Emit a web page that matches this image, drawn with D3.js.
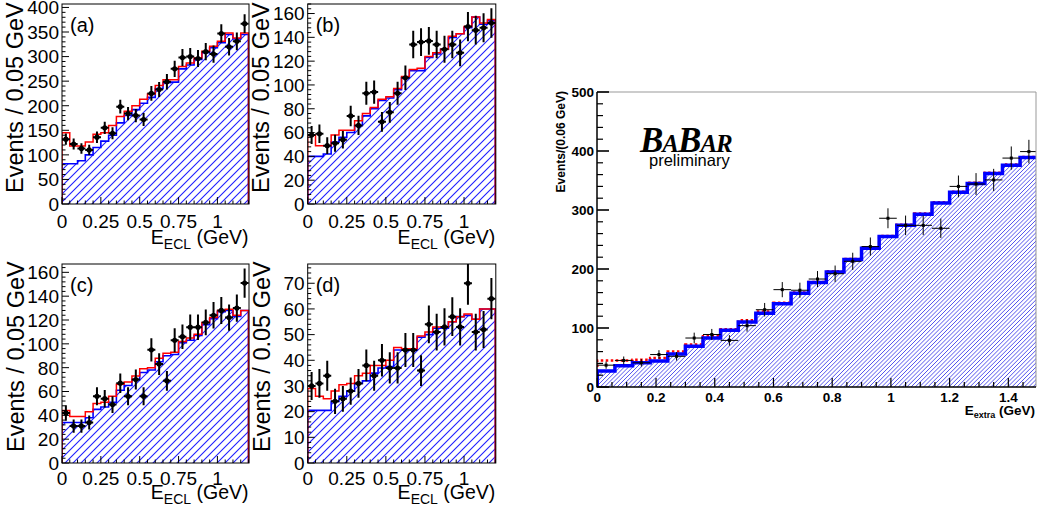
<!DOCTYPE html>
<html><head><meta charset="utf-8">
<script src="https://cdn.jsdelivr.net/npm/d3@7"></script>
<style>body{margin:0;background:#fff}svg{display:block}</style>
</head><body>
<svg id="c" width="1037" height="516"></svg>
<script>
// ---------------- data ----------------
// small panels: 24 bins of 0.05 GeV in E_ECL from 0 to 1.2 GeV
const eclBinWidth = 0.05;
const eclNBins = 24;
const eclTickLabels = ["0", "0.25", "0.5", "0.75", "1"];
const eclTickValues = [0, 0.25, 0.5, 0.75, 1];

const dataA = [132,122,113,110,136,155,144,198,184,180,172,225,233,249,275,298,300,296,310,305,347,320,331,367];
const totA  = [145,118,118,126,142,145,160,178,189,200,213,224,241,253,253,280,287,297,311,321,331,348,338,348];
const bkgA  = [82,82,88,100,115,128,140,165,180,192,205,217,235,247,248,275,283,294,308,318,328,345,336,345];

const dataB = [58,59,49,51,54,74,66,93,94,69,77,93,106,134,136,137,134,130,134,127,149,146,148,152];
const totB  = [58,49,49,58,62,62,70,76,81,88,90,97,107,113,114,124,127,130,141,143,149,157,152,155];
const bkgB  = [40,40,42,52,56,60,66,74,80,87,89,96,106,112,112,123,126,130,140,143,148,157,151,154];

const dataC = [42,31,31,34,56,54,49,67,56,70,56,95,83,69,103,106,114,114,118,124,128,122,130,151];
const totC  = [44,39,39,43,50,51,56,66,68,73,79,80,88,92,93,102,105,108,118,122,128,129,124,128];
const bkgC  = [34,34,34,38,45,47,51,61,65,70,76,78,85,90,91,101,103,107,116,121,127,128,123,128];

const dataD = [30,31,34,24,25,28,31,38,34,40,37,37,44,44,36,54,51,53,57,53,70,51,52,64];
const totD  = [29,26,25,28,30.5,31,34,35,38,38,40,45,44.5,44.5,49.5,51,53,53,55,57,58,56,60,60];
const bkgD  = [20.5,20.5,20.5,24,26,28,31,32,35,37,37.6,44,44,44,49,50,52.5,52.5,55,57,57.5,56,60,60];

// big panel: 25 bins of 0.06 GeV in E_extra from 0 to 1.5 GeV
const extraBinWidth = 0.06;
const extraNBins = 25;
const extraTickValues = [0, 0.2, 0.4, 0.6, 0.8, 1, 1.2, 1.4];
const extraTickLabels = ["0", "0.2", "0.4", "0.6", "0.8", "1", "1.2", "1.4"];
const bigYTicks = [0, 100, 200, 300, 400, 500];
const bigData = [37,45,41,55,52,83,89,79,104,131,165,164,183,192,213,238,286,274,274,269,340,344,351,388,399];
const bigBkg  = [27,36,41,44,56,69,83,96,110,125,141,159,177,195,216,235,255,274,293,312,330,345,362,376,389];
const bigTot  = [45,45,46,49,60,72,86,98,113,128,143,160,178,196,217,236,256,275,294,313,331,346,363,377,390];

// ---------------- drawing ----------------
const svg = d3.select("#c");
const FONT = "'Liberation Sans', Arial, Helvetica, sans-serif";
const defs = svg.append("defs");
const patS = defs.append("pattern").attr("id","hatchS").attr("patternUnits","userSpaceOnUse")
  .attr("width",8).attr("height",8);
patS.append("path").attr("d","M-2,2 L2,-2 M0,8 L8,0 M6,10 L10,6")
  .style("stroke","#1f1fff").style("stroke-width","1.1px").style("fill","none");

function stepPath(x, y, edges, vals){
  let s = `M${x(edges[0])},${y(0)}`;
  vals.forEach((v,i)=>{ s += `V${y(v)}H${x(edges[i+1])}`; });
  s += `V${y(0)}`;
  return s;
}

const panels = [
  {lab:"(a)", data:dataA, tot:totA, bkg:bkgA, ymax:407, major:50, minor:10, L:62, R:248.5, T:4, B:204, tx:23, xlabB:24, xtitB:40},
  {lab:"(b)", data:dataB, tot:totB, bkg:bkgB, ymax:168, major:20, minor:4, L:307.7, R:495.3, T:4, B:204, tx:269, xlabB:24, xtitB:40},
  {lab:"(c)", data:dataC, tot:totC, bkg:bkgC, ymax:167, major:20, minor:4, L:62, R:248.5, T:264, B:463, tx:24, xlabB:22, xtitB:36},
  {lab:"(d)", data:dataD, tot:totD, bkg:bkgD, ymax:77.5, major:10, minor:2, L:307.7, R:495.3, T:264, B:463, tx:270, xlabB:22, xtitB:36}
];

panels.forEach((p, k)=>{
  const g = svg.append("g");
  const x = d3.scaleLinear().domain([0, eclBinWidth*eclNBins]).range([p.L, p.R]);
  const y = d3.scaleLinear().domain([0, p.ymax]).range([p.B, p.T]);
  const edges = d3.range(eclNBins+1).map(i=>i*eclBinWidth);
  const cid = "clipS"+k;
  defs.append("clipPath").attr("id",cid).append("rect")
    .attr("x",p.L).attr("y",p.T).attr("width",p.R-p.L+1).attr("height",p.B-p.T);
  const inner = g.append("g").attr("clip-path",`url(#${cid})`);
  inner.append("path").attr("d", stepPath(x,y,edges,p.bkg)+"Z").attr("fill","url(#hatchS)");
  inner.append("path").attr("d", stepPath(x,y,edges,p.bkg)).attr("fill","none")
    .attr("stroke","#0000ff").attr("stroke-width",1.6);
  inner.append("path").attr("d", stepPath(x,y,edges,p.tot)).attr("fill","none")
    .attr("stroke","#ff0000").attr("stroke-width",1.5);
  p.data.forEach((v,i)=>{
    const cx = x((edges[i]+edges[i+1])/2), e = Math.sqrt(v);
    inner.append("line").attr("x1",cx).attr("x2",cx).attr("y1",y(v-e)).attr("y2",y(v+e))
      .attr("stroke","#000").attr("stroke-width",2);
    inner.append("line").attr("x1",cx-4).attr("x2",cx+4).attr("y1",y(v)).attr("y2",y(v))
      .attr("stroke","#000").attr("stroke-width",2);
    inner.append("circle").attr("cx",cx).attr("cy",y(v)).attr("r",2.6).attr("fill","#000");
  });
  g.append("rect").attr("x",p.L).attr("y",p.T).attr("width",p.R-p.L+0.5).attr("height",p.B-p.T)
    .attr("fill","none").attr("stroke","#000").attr("stroke-width",1);
  // y ticks
  d3.range(0, p.ymax+1e-9, p.minor).forEach(v=>{
    const isMaj = Math.abs(v/p.major - Math.round(v/p.major))<1e-6;
    g.append("line").attr("x1",p.L).attr("x2",p.L+(isMaj?7:3.5)).attr("y1",y(v)).attr("y2",y(v))
      .attr("stroke","#000").attr("stroke-width",1);
    if(isMaj) g.append("text").attr("x",p.L-3).attr("y",y(v)).attr("dy","0.36em")
      .attr("text-anchor","end").attr("font-family",FONT).attr("font-size",19).text(d3.format("")(v));
  });
  // x ticks
  d3.range(0, eclNBins+1).forEach(i=>{
    const v = i*eclBinWidth;
    const isMaj = i%5===0;
    g.append("line").attr("x1",x(v)).attr("x2",x(v)).attr("y1",p.B).attr("y2",p.B-(isMaj?7:3.5))
      .attr("stroke","#000").attr("stroke-width",1);
  });
  eclTickValues.forEach((v,i)=>{
    g.append("text").attr("x",x(v)).attr("y",p.B+p.xlabB).attr("text-anchor","middle")
      .attr("font-family",FONT).attr("font-size",19).text(eclTickLabels[i]);
  });
  // y title
  g.append("text").attr("transform",`translate(${p.tx},${p.B-11}) rotate(-90)`)
    .attr("font-family",FONT).attr("font-size",23.5).text("Events / 0.05 GeV");
  // x title
  const xt = g.append("text").attr("x",p.R).attr("y",p.B+p.xtitB).attr("text-anchor","end")
    .attr("font-family",FONT).attr("font-size",19.5);
  xt.append("tspan").text("E");
  xt.append("tspan").attr("font-size",14).attr("dy",5).text("ECL");
  xt.append("tspan").attr("dy",-5).text(" (GeV)");
  // label
  g.append("text").attr("x",p.L+8).attr("y",p.T+28).attr("font-family",FONT).attr("font-size",20).text(p.lab);
});

// ---------------- big panel ----------------
(function(){
  const L=597, R=1036, T=92, B=387;
  const g = svg.append("g");
  const x = d3.scaleLinear().domain([0, 1.5]).range([597.3, 1037.7]);
  const y = d3.scaleLinear().domain([0, 500]).range([B, T]);
  const edges = d3.range(extraNBins+1).map(i=>i*extraBinWidth);
  defs.append("clipPath").attr("id","clipB").append("rect")
    .attr("x",L).attr("y",T).attr("width",R-L).attr("height",B-T);
  defs.append("clipPath").attr("id","clipBH").append("path")
    .attr("d", stepPath(x,y,edges,bigBkg)+"Z");
  const inner = g.append("g").attr("clip-path","url(#clipB)");
  // hatch: explicit diagonal lines clipped to the background histogram
  const hatch = inner.append("g").attr("clip-path","url(#clipBH)");
  const hs = 4.2, H = B - T;
  for(let x0 = L - H; x0 < R + 5; x0 += hs){
    hatch.append("line").attr("x1",x0).attr("y1",B).attr("x2",x0+H).attr("y2",T)
      .attr("stroke","#2828e8").attr("stroke-width",0.8);
  }
  inner.append("path").attr("d", stepPath(x,y,edges,bigTot)).attr("fill","none")
    .attr("stroke","#ff0000").attr("stroke-width",2.5).attr("stroke-dasharray","2.5,2.5");
  inner.append("path").attr("d", stepPath(x,y,edges,bigBkg)).attr("fill","none")
    .attr("stroke","#0000ff").attr("stroke-width",3.5);
  bigData.forEach((v,i)=>{
    const cx = x((edges[i]+edges[i+1])/2), e = Math.sqrt(v);
    inner.append("line").attr("x1",cx).attr("x2",cx).attr("y1",y(v-e)).attr("y2",y(v+e))
      .attr("stroke","#000").attr("stroke-width",1);
    inner.append("line").attr("x1",x(edges[i])).attr("x2",x(edges[i+1])).attr("y1",y(v)).attr("y2",y(v))
      .attr("stroke","#000").attr("stroke-width",1);
    inner.append("rect").attr("x",cx-1.5).attr("y",y(v)-1.5).attr("width",3).attr("height",3).attr("fill","#000");
  });
  // frame
  g.append("line").attr("x1",L).attr("x2",R).attr("y1",T).attr("y2",T).attr("stroke","#999").attr("stroke-width",1);
  g.append("line").attr("x1",R).attr("x2",R).attr("y1",T).attr("y2",B).attr("stroke","#999").attr("stroke-width",1);
  g.append("line").attr("x1",L).attr("x2",L).attr("y1",T).attr("y2",B+0.5).attr("stroke","#000").attr("stroke-width",1.5);
  g.append("line").attr("x1",L).attr("x2",R).attr("y1",B).attr("y2",B).attr("stroke","#000").attr("stroke-width",1.5);
  // y ticks
  d3.range(0, 501, 20).forEach(v=>{
    const isMaj = v%100===0;
    g.append("line").attr("x1",L).attr("x2",L+(isMaj?12:6)).attr("y1",y(v)).attr("y2",y(v))
      .attr("stroke","#000").attr("stroke-width",isMaj?1.6:1.2);
  });
  bigYTicks.forEach(v=>{
    g.append("text").attr("x",L-3).attr("y",y(v)).attr("dy","0.36em").attr("text-anchor","end")
      .attr("font-family",FONT).attr("font-weight","bold").attr("font-size",13.5).text(v);
  });
  // x ticks
  d3.range(0, 30).forEach(i=>{
    const v = i*0.05;
    const isMaj = i%4===0;
    g.append("line").attr("x1",x(v)).attr("x2",x(v)).attr("y1",B).attr("y2",B-(isMaj?9:5))
      .attr("stroke","#000").attr("stroke-width",1.2);
  });
  extraTickValues.forEach((v,i)=>{
    g.append("text").attr("x",x(v)).attr("y",B+15).attr("text-anchor","middle")
      .attr("font-family",FONT).attr("font-weight","bold").attr("font-size",13.5).text(extraTickLabels[i]);
  });
  // titles
  g.append("text").attr("transform",`translate(565,${T-1}) rotate(-90)`).attr("text-anchor","end")
    .attr("font-family",FONT).attr("font-weight","bold").attr("font-size",12).text("Events/(0.06 GeV)");
  const xt = g.append("text").attr("x",1035).attr("y",B+28).attr("text-anchor","end")
    .attr("font-family",FONT).attr("font-weight","bold").attr("font-size",13.5);
  xt.append("tspan").text("E");
  xt.append("tspan").attr("font-size",9).attr("dy",3).text("extra");
  xt.append("tspan").attr("dy",-3).text(" (GeV)");
  // BaBar logo
  const lg = g.append("text").attr("x",640).attr("y",152)
    .attr("font-family","'Liberation Serif', 'Times New Roman', serif").attr("font-weight","bold")
    .attr("font-style","italic").attr("letter-spacing",-1);
  lg.append("tspan").attr("font-size",35).text("B");
  lg.append("tspan").attr("font-size",25).text("A");
  lg.append("tspan").attr("font-size",35).text("B");
  lg.append("tspan").attr("font-size",25).text("AR");
  g.append("text").attr("x",649).attr("y",166).attr("font-family",FONT).attr("font-size",16.5).text("preliminary");
})();
</script>
</body></html>
